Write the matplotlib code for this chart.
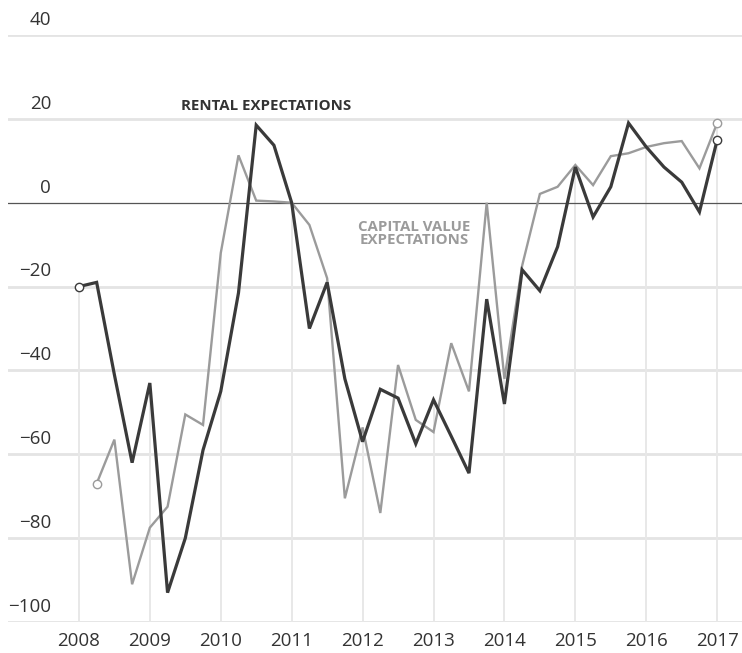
import numpy as np
import matplotlib
matplotlib.use("Agg")
import matplotlib.pyplot as plt
import matplotlib.transforms as mtransforms

# quarterly survey balances
rental_start = 2008.0
rental = [-20, -19, -41, -62,
          -43, -93, -80, -59,
          -45, -21.5, 18.5, 13.7,
          0, -30, -19, -42,
          -57, -44.5, -46.6, -57.5,
          -47, -55.7, -64.5, -23,
          -48, -16, -21, -10.5,
          8.5, -3.4, 3.8, 19,
          13.3, 8.5, 4.9, -2.2,
          15]

capital_start = 2008.25
capital = [-67, -56.5, -91,
           -77.5, -72.5, -50.5, -53,
           -12, 11.3, 0.5, 0.3,
           0, -5.3, -18, -70.5,
           -53.6, -74, -38.7, -51.8,
           -54.7, -33.5, -45, 0,
           -42, -15, 2.1, 3.8,
           9, 4.2, 11.1, 11.8,
           13.3, 14.2, 14.7, 8.2,
           19]

years = list(range(2008, 2018))
year_labels = [str(y) for y in years]
y_ticks = [40, 20, 0, -20, -40, -60, -80, -100]
y_tick_labels = ["40", "20", "0", "\u221220", "\u221240", "\u221260", "\u221280", "\u2212100"]

x_r = rental_start + 0.25 * np.arange(len(rental))
x_c = capital_start + 0.25 * np.arange(len(capital))

plt.rcParams['font.family'] = ['Open Sans', 'DejaVu Sans']

fig = plt.figure(figsize=(7.42, 6.53), dpi=100)
ax = fig.add_axes([8 / 742, 31 / 653, 734 / 742, 587 / 653])
ax.set_xlim(2007.0, 2017.35)
ax.set_ylim(-100, 40)

# horizontal gridlines (no grey one at zero, the dark baseline sits there)
for v in y_ticks:
    if v != 0:
        ax.axhline(v, color="#e4e4e4", lw=2.0, zorder=0)
ax.axhline(0, color="#555555", lw=0.9, zorder=1)

# vertical drop lines at each year up to the higher series
r_map = dict(zip(np.round(x_r, 2), rental))
c_map = dict(zip(np.round(x_c, 2), capital))
for yr in years:
    vals = [m[float(yr)] for m in (r_map, c_map) if float(yr) in m]
    ax.vlines(yr, -100, max(vals), color="#e8e8e8", lw=1.4, zorder=0)

# series
ax.plot(x_c, capital, color="#9b9b9b", lw=1.7, zorder=3, solid_joinstyle="miter")
ax.plot(x_r, rental, color="#3a3a3a", lw=2.3, zorder=4, solid_joinstyle="miter")
for xs, ys, col in [(x_c, capital, "#9b9b9b"), (x_r, rental, "#3a3a3a")]:
    ax.plot([xs[0], xs[-1]], [ys[0], ys[-1]], ls="none", marker="o", ms=6,
            mfc="white", mec=col, mew=1.0, zorder=5, clip_on=False)

# y tick labels sit above their gridlines
trans = mtransforms.blended_transform_factory(ax.transAxes, ax.transData)
for v, lab in zip(y_ticks, y_tick_labels):
    ax.text(0.0586, v + 3.6, lab, transform=trans, ha="right", va="center",
            fontsize=13.5, color="#333333")

ax.set_xticks(years)
ax.set_xticklabels(year_labels, fontsize=13.5, color="#333333")
ax.tick_params(axis="x", length=0, pad=7)
ax.set_yticks([])
for s in ax.spines.values():
    s.set_visible(False)

# series labels
ax.text(2010.64, 23.0, "RENTAL EXPECTATIONS", ha="center", va="center",
        fontsize=10.8, fontweight="bold", color="#333333")
ax.text(2012.73, -7.4, "CAPITAL VALUE\nEXPECTATIONS", ha="center", va="center",
        fontsize=10.8, fontweight="bold", color="#9b9b9b", linespacing=0.95)

fig.savefig("out.png", dpi=100, facecolor="white")
